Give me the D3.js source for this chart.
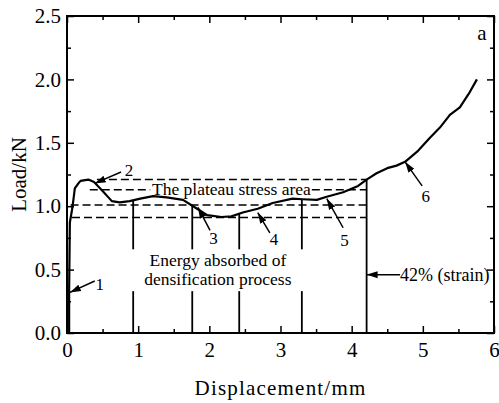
<!DOCTYPE html>
<html>
<head>
<meta charset="utf-8">
<script src="https://cdn.jsdelivr.net/npm/d3@7"></script>
<style>
  body { margin: 0; background: #fff; }
  svg { font-family: "Liberation Serif", "Times New Roman", serif; }
</style>
</head>
<body>
<script>
/* curve data */
const disp = [0.03, 0.03, 0.04, 0.07, 0.09, 0.11, 0.16, 0.19, 0.30, 0.38, 0.50, 0.63, 0.74, 0.88,
  1.03, 1.21, 1.40, 1.63, 1.80, 1.97, 2.17, 2.31, 2.47, 2.68, 2.89, 3.17, 3.31, 3.51, 3.65,
  3.88, 4.09, 4.21, 4.35, 4.50, 4.63, 4.75, 4.92, 5.10, 5.24, 5.38, 5.52, 5.66, 5.76];
const load = [0, 0.34, 0.87, 0.97, 1.05, 1.14, 1.18, 1.20, 1.21, 1.19, 1.12, 1.04, 1.03, 1.04,
  1.06, 1.08, 1.07, 1.05, 0.99, 0.93, 0.915, 0.92, 0.95, 0.98, 1.025, 1.06, 1.055, 1.05, 1.075,
  1.11, 1.16, 1.21, 1.26, 1.30, 1.32, 1.35, 1.43, 1.54, 1.62, 1.72, 1.78, 1.90, 2.00];

const xTicks = [0, 1, 2, 3, 4, 5, 6];
const yTicks = [0, 0.5, 1.0, 1.5, 2.0, 2.5];
const xMinor = [0.5, 1.5, 2.5, 3.5, 4.5, 5.5];
const yMinor = [0.25, 0.75, 1.25, 1.75, 2.25];

// dashed plateau levels and where each one starts
const dashLevels = [1.21, 1.13, 1.01, 0.91];
const dashStart = [0.42, 0.32, 0.05, 0.07];
const dashEnd = 4.21;
const plateauGap = [1.17, 3.44]; // text sits on the 1.13 line

// vertical markers
const markerX = [0.93, 1.76, 2.42, 3.30, 4.21];

// numbered arrows: label, tip, tail, label position
const arrowLabels = ['1', '2', '3', '4', '5', '6'];
const arrowTip = [[0.04, 0.32], [0.39, 1.18], [1.84, 0.99], [2.68, 0.95], [3.65, 1.06], [4.75, 1.35]];
const arrowTail = [[0.39, 0.41], [0.76, 1.27], [2.01, 0.81], [2.85, 0.79], [3.88, 0.83], [4.99, 1.16]];
const labelPos = [[0.46, 0.38], [0.87, 1.28], [2.06, 0.745], [2.91, 0.74], [3.90, 0.73], [5.04, 1.08]];

const W = 499, H = 403;
const mLeft = 67, mRight = 494, mTop = 16, mBottom = 333;

const x = d3.scaleLinear().domain([0, 6]).range([mLeft, mRight]);
const y = d3.scaleLinear().domain([0, 2.5]).range([mBottom, mTop]);

const svg = d3.select('body').append('svg')
  .attr('width', W).attr('height', H);

svg.append('defs').append('marker')
  .attr('id', 'arrow')
  .attr('viewBox', '0 0 10 10')
  .attr('refX', 10).attr('refY', 5)
  .attr('markerWidth', 11).attr('markerHeight', 11)
  .attr('markerUnits', 'userSpaceOnUse')
  .attr('orient', 'auto')
  .append('path').attr('d', 'M0,1.8L10,5L0,8.2Z').attr('fill', '#000');

/* axes, ticks pointing inward on all four sides */
function addAxis(gen, tr, size, values, labels) {
  const g = svg.append('g').attr('transform', tr)
    .call(gen.tickValues(values).tickSize(size).tickSizeOuter(0)
      .tickFormat(labels ? d3.format('.1f') : ''));
  g.select('.domain').remove();
  g.attr('font-family', 'Liberation Serif');
  g.selectAll('line').attr('stroke', '#000').attr('stroke-width', 1.5);
  return g;
}

const xb = addAxis(d3.axisBottom(x), `translate(0,${mBottom})`, -7, xTicks, true);
xb.selectAll('text').text(d => d).attr('font-size', 21).attr('y', 9).attr('fill', '#000');
addAxis(d3.axisBottom(x), `translate(0,${mBottom})`, -4, xMinor, false);
addAxis(d3.axisTop(x), `translate(0,${mTop})`, -7, xTicks, false);
addAxis(d3.axisTop(x), `translate(0,${mTop})`, -4, xMinor, false);

const yl = addAxis(d3.axisLeft(y), `translate(${mLeft},0)`, -7, yTicks, true);
yl.selectAll('text').attr('font-size', 21).attr('x', -6).attr('fill', '#000');
addAxis(d3.axisLeft(y), `translate(${mLeft},0)`, -4, yMinor, false);
addAxis(d3.axisRight(y), `translate(${mRight},0)`, -7, yTicks, false);
addAxis(d3.axisRight(y), `translate(${mRight},0)`, -4, yMinor, false);

svg.append('rect')
  .attr('x', mLeft).attr('y', mTop)
  .attr('width', mRight - mLeft).attr('height', mBottom - mTop)
  .attr('fill', 'none').attr('stroke', '#000').attr('stroke-width', 2);

/* dashed plateau lines */
dashLevels.forEach((lv, i) => {
  const segs = i === 1
    ? [[dashStart[i], plateauGap[0]], [plateauGap[1], dashEnd]]
    : [[dashStart[i], dashEnd]];
  segs.forEach(s => {
    svg.append('line')
      .attr('x1', x(s[0])).attr('x2', x(s[1]))
      .attr('y1', y(lv)).attr('y2', y(lv))
      .attr('stroke', '#000').attr('stroke-width', 1.5)
      .attr('stroke-dasharray', '8,4');
  });
});

/* vertical markers up to the curve */
const curveAt = v => {
  for (let i = 1; i < disp.length; i++) {
    if (disp[i] >= v) {
      const t = (v - disp[i - 1]) / (disp[i] - disp[i - 1]);
      return load[i - 1] + t * (load[i] - load[i - 1]);
    }
  }
  return load[load.length - 1];
};
markerX.forEach(m => {
  svg.append('line')
    .attr('x1', x(m)).attr('x2', x(m))
    .attr('y1', y(0)).attr('y2', y(curveAt(m)))
    .attr('stroke', '#000').attr('stroke-width', 1.8);
});

// white box for the energy label (cuts the markers)
svg.append('rect')
  .attr('x', x(0.86)).attr('y', y(0.66))
  .attr('width', x(3.38) - x(0.86)).attr('height', y(0.33) - y(0.66))
  .attr('fill', '#fff');

svg.append('text')
  .attr('x', x(2.12)).attr('y', y(0.53))
  .attr('text-anchor', 'middle').attr('font-size', 17.5)
  .text('Energy absorbed of');
svg.append('text')
  .attr('x', x(2.12)).attr('y', y(0.38))
  .attr('text-anchor', 'middle').attr('font-size', 17.5)
  .text('densification process');

svg.append('text')
  .attr('x', x(2.31)).attr('y', y(1.13) + 5)
  .attr('text-anchor', 'middle').attr('font-size', 17.5)
  .text('The plateau stress area');

/* load-displacement curve */
const line = d3.line().x((d, i) => x(disp[i])).y(d => y(d));
svg.append('path')
  .datum(load)
  .attr('d', line)
  .attr('fill', 'none').attr('stroke', '#000')
  .attr('stroke-width', 2.2).attr('stroke-linejoin', 'round');

/* numbered arrows */
arrowLabels.forEach((lb, i) => {
  svg.append('line')
    .attr('x1', x(arrowTail[i][0])).attr('y1', y(arrowTail[i][1]))
    .attr('x2', x(arrowTip[i][0])).attr('y2', y(arrowTip[i][1]))
    .attr('stroke', '#000').attr('stroke-width', 1.5)
    .attr('marker-end', 'url(#arrow)');
  svg.append('text')
    .attr('x', x(labelPos[i][0])).attr('y', y(labelPos[i][1]))
    .attr('text-anchor', 'middle').attr('dominant-baseline', 'central')
    .attr('font-size', 17).text(lb);
});

// strain arrow
svg.append('line')
  .attr('x1', x(4.68)).attr('y1', y(0.46))
  .attr('x2', x(4.21)).attr('y2', y(0.46))
  .attr('stroke', '#000').attr('stroke-width', 1.5)
  .attr('marker-end', 'url(#arrow)');
svg.append('text')
  .attr('x', x(4.68)).attr('y', y(0.46))
  .attr('dominant-baseline', 'central').attr('font-size', 18)
  .text('42% (strain)');

svg.append('text')
  .attr('x', 482).attr('y', 33)
  .attr('text-anchor', 'middle').attr('dominant-baseline', 'central')
  .attr('font-size', 21).text('a');

/* axis titles */
svg.append('text')
  .attr('x', (mLeft + mRight) / 2).attr('y', 395)
  .attr('text-anchor', 'middle').attr('font-size', 21)
  .attr('letter-spacing', 1.2)
  .text('Displacement/mm');
svg.append('text')
  .attr('transform', `translate(26,${(mTop + mBottom) / 2}) rotate(-90)`)
  .attr('text-anchor', 'middle').attr('font-size', 21)
  .text('Load/kN');
</script>
</body>
</html>
